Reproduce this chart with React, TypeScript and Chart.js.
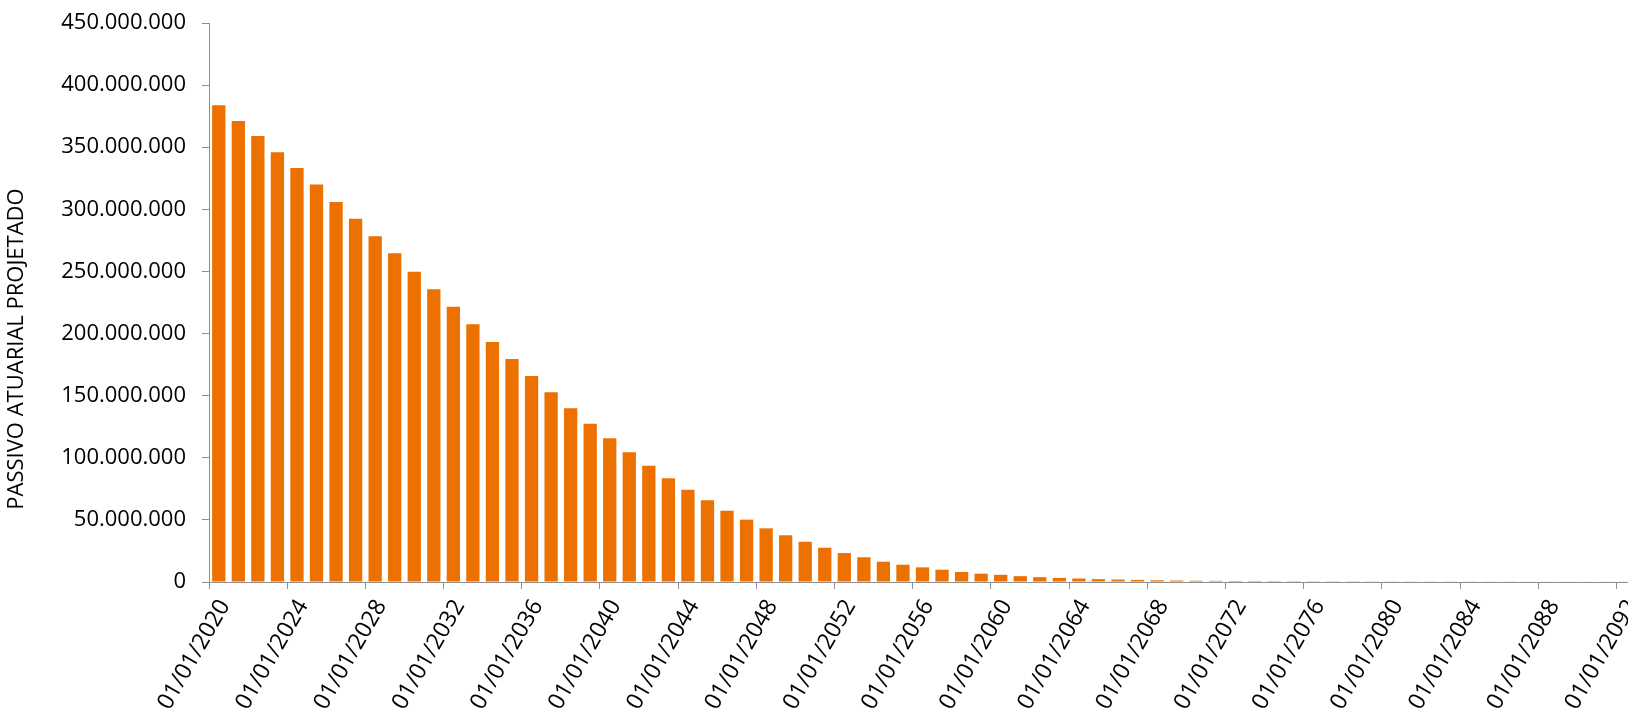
import React, { useEffect, useRef } from "react";
import { Chart, registerables } from "chart.js";

Chart.register(...registerables);

// Years of projection (one bar per year, 01/01 of each year)
const years: number[] = [
  2020, 2021, 2022, 2023, 2024, 2025, 2026, 2027, 2028, 2029,
  2030, 2031, 2032, 2033, 2034, 2035, 2036, 2037, 2038, 2039,
  2040, 2041, 2042, 2043, 2044, 2045, 2046, 2047, 2048, 2049,
  2050, 2051, 2052, 2053, 2054, 2055, 2056, 2057, 2058, 2059,
  2060, 2061, 2062, 2063, 2064, 2065, 2066, 2067, 2068, 2069,
  2070, 2071, 2072, 2073, 2074, 2075, 2076, 2077, 2078, 2079,
  2080, 2081, 2082, 2083, 2084, 2085, 2086, 2087, 2088, 2089,
  2090, 2091, 2092,
];

// Passivo atuarial projetado, in millions
const passivoMilhoes: number[] = [
  383.7, 371.2, 359.0, 346.0, 333.2, 320.0, 306.0, 292.5, 278.3, 264.6,
  249.8, 235.6, 221.6, 207.4, 193.2, 179.5, 165.8, 152.7, 139.8, 127.4,
  115.7, 104.4, 93.6, 83.5, 74.3, 65.8, 57.4, 50.2, 43.2, 37.6,
  32.4, 27.6, 23.3, 19.9, 16.3, 13.9, 11.8, 9.9, 8.1, 6.7,
  5.8, 4.7, 3.9, 3.3, 2.8, 2.3, 2.0, 1.7, 1.4, 1.2,
  1.0, 0.9, 0.8, 0.75, 0.7, 0.65, 0.62, 0.6, 0.58, 0.56,
  0.55, 0.54, 0.53, 0.52, 0.51, 0.5, 0.5, 0.49, 0.49, 0.48,
  0.48, 0.47, 0.47,
];

const yAxisTitle = "PASSIVO ATUARIAL PROJETADO";
const yMax = 450000000;
const yStep = 50000000;
const labelEvery = 4;

const categoryLabels = years.map((y) => `01/01/${y}`);
const values = passivoMilhoes.map((v) => v * 1000000);

const formatBR = (v: number) =>
  Math.round(v).toString().replace(/\B(?=(\d{3})+(?!\d))/g, ".");

const CANVAS_W = 1650;
const CANVAS_H = 713;
const AXIS_COLOR = "#8f8f8f";

const yTitlePlugin = {
  id: "yTitlePlugin",
  afterDraw(chart: any) {
    const ctx = chart.ctx;
    ctx.save();
    ctx.translate(17, 349);
    ctx.rotate(-Math.PI / 2);
    ctx.font = '22px "Open Sans"';
    ctx.fillStyle = "#000";
    ctx.textAlign = "center";
    ctx.textBaseline = "middle";
    ctx.fillText(yAxisTitle, 0, 0);
    ctx.restore();
  },
};

export default function App() {
  const canvasRef = useRef<HTMLCanvasElement | null>(null);

  useEffect(() => {
    if (!canvasRef.current) return;
    const chart = new Chart(canvasRef.current, {
      type: "bar",
      data: {
        labels: categoryLabels,
        datasets: [
          {
            data: values,
            backgroundColor: "#ED7100",
            borderWidth: 0,
            categoryPercentage: 1,
            barPercentage: 0.68,
          },
        ],
      },
      options: {
        animation: false,
        responsive: false,
        devicePixelRatio: 1,
        layout: { padding: { top: 23, right: 14, left: 0, bottom: 0 } },
        plugins: {
          legend: { display: false },
          tooltip: { enabled: false },
        },
        scales: {
          x: {
            type: "category",
            offset: true,
            afterFit: (scale: any) => {
              scale.height = CANVAS_H - 582;
              scale.paddingLeft = 0;
              scale.paddingRight = 0;
            },
            border: { display: true, color: AXIS_COLOR, width: 1 },
            grid: {
              offset: true,
              drawOnChartArea: false,
              drawTicks: true,
              tickLength: 7,
              color: (ctx: any) =>
                ctx.index % labelEvery === 0 ? AXIS_COLOR : "rgba(0,0,0,0)",
            },
            ticks: {
              autoSkip: false,
              minRotation: 60,
              maxRotation: 60,
              padding: 6,
              labelOffset: 6,
              color: "#000",
              font: { family: '"Open Sans"', size: 23 },
              callback: (_v: any, i: number) =>
                i % labelEvery === 0 ? categoryLabels[i] : "",
            },
          },
          y: {
            min: 0,
            max: yMax,
            afterFit: (scale: any) => {
              scale.width = 209;
              scale.paddingTop = 0;
              scale.paddingBottom = 0;
            },
            border: { display: true, color: AXIS_COLOR, width: 1 },
            grid: {
              drawOnChartArea: false,
              drawTicks: true,
              tickLength: 7,
              color: AXIS_COLOR,
            },
            ticks: {
              stepSize: yStep,
              padding: 16,
              color: "#000",
              font: { family: '"Open Sans"', size: 22 },
              callback: (v: any) => formatBR(Number(v)),
            },
          },
        },
      },
      plugins: [yTitlePlugin],
    } as any);
    return () => chart.destroy();
  }, []);

  return (
    <div
      style={{
        position: "fixed",
        left: 0,
        top: 0,
        width: 1628,
        height: 713,
        overflow: "hidden",
        background: "#fff",
      }}
    >
      <canvas
        ref={canvasRef}
        width={CANVAS_W}
        height={CANVAS_H}
        style={{ display: "block", width: CANVAS_W, height: CANVAS_H }}
      />
    </div>
  );
}
